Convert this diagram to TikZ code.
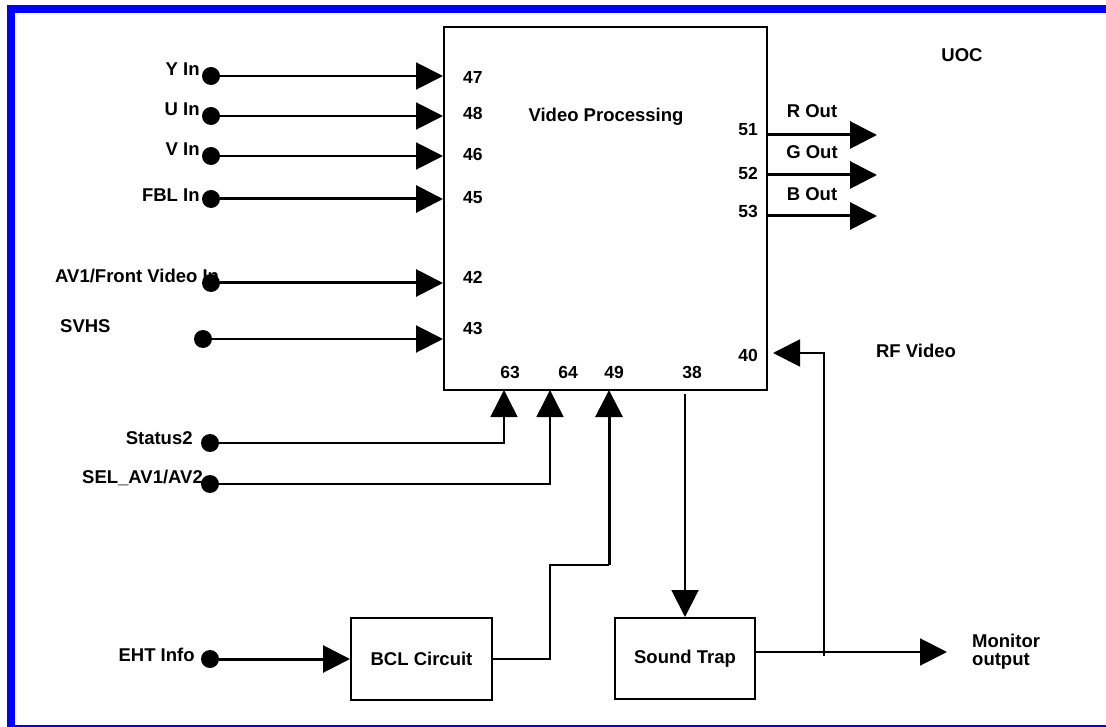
\documentclass[tikz,border=0pt]{standalone}
\usepackage{fontspec}
\setmainfont{Liberation Sans}
\usepackage{xcolor}
\definecolor{cFrame}{HTML}{0000FF}
\definecolor{cInk}{HTML}{000000}
\usetikzlibrary{positioning,arrows.meta}
\tikzset{
  pin-lbl/.style={font=\fontsize{18.5}{19}\selectfont\bfseries,inner sep=0pt,text=cInk},
  pin-num/.style={pin-lbl,font=\fontsize{17.5}{18}\selectfont\bfseries},
  node-dot/.style={circle,fill=cInk,inner sep=0pt,minimum size=18pt},
  node-box/.style={draw=cInk,line width=2pt,inner sep=0pt,align=center,
    font=\fontsize{18.5}{19}\selectfont\bfseries},
  wire/.style={draw=cInk,line width=2pt},
  wire-thin/.style={draw=cInk,line width=1.5pt},
  wire-thick/.style={draw=cInk,line width=3pt},
  tip/.style={-{Triangle[length=27pt,width=27pt]}},
}
\begin{document}
\begin{tikzpicture}[x=1pt,y=-1pt]
  \useasboundingbox (0,0) rectangle (1106,727);
  % frame
  \fill[cFrame] (7,5) rectangle (15,727);
  \fill[cFrame] (7,5) rectangle (1106,13);
  \draw[cFrame,line width=2pt] (7,725.5) -- (1106,725.5);

  % UOC block
  \node[node-box,minimum width=323pt,minimum height=363pt] (vp) at (605.5,208.5) {};
  \node[pin-lbl] (vp-lbl) at (606,117) {Video Processing};
  \node[pin-lbl] (uoc)    at (962,55)  {UOC};

  % pin numbers
  \node[pin-num,anchor=west] (p47) at (463,77)  {47};
  \node[pin-num,anchor=west] (p48) at (463,113) {48};
  \node[pin-num,anchor=west] (p46) at (463,154) {46};
  \node[pin-num,anchor=west] (p45) at (463,198) {45};
  \node[pin-num,anchor=west] (p42) at (463,277) {42};
  \node[pin-num,anchor=west] (p43) at (463,328) {43};
  \node[pin-num] (p63) at (510,372) {63};
  \node[pin-num] (p64) at (568,372) {64};
  \node[pin-num] (p49) at (614,372) {49};
  \node[pin-num] (p38) at (692,372) {38};
  \node[pin-num,anchor=east] (p51) at (758,130) {51};
  \node[pin-num,anchor=east] (p52) at (758,173) {52};
  \node[pin-num,anchor=east] (p53) at (758,211) {53};
  \node[pin-num,anchor=east] (p40) at (758,355) {40};

  % left inputs
  \node[pin-lbl,anchor=base west] (av-lbl) at (55,283) {AV1/Front Video In};
  \node[node-dot] (yin)  at (211,76)  {};
  \node[node-dot] (uin)  at (211,116) {};
  \node[node-dot] (vin)  at (211,156) {};
  \node[node-dot] (fbl)  at (211,199) {};
  \node[node-dot] (av1)  at (211,283) {};
  \node[node-dot] (svhs) at (203,339) {};
  \node[pin-lbl,anchor=base east] (yin-lbl) at ([xshift=-2pt]yin.west) {Y In};
  \node[pin-lbl,anchor=base east] (uin-lbl) at ([xshift=-2pt]uin.west) {U In};
  \node[pin-lbl,anchor=base east] (vin-lbl) at ([xshift=-2pt]vin.west) {V In};
  \node[pin-lbl,anchor=base east] (fbl-lbl) at ([xshift=-2pt,yshift=-3pt]fbl.west) {FBL In};
  \node[pin-lbl,anchor=west] (svhs-lbl) at (60,326) {SVHS};
  \draw[wire,tip]       (yin)  -- (yin -| vp.west);
  \draw[wire,tip]       (uin)  -- (uin -| vp.west);
  \draw[wire,tip]       (vin)  -- (vin -| vp.west);
  \draw[wire-thick,tip] (fbl)  -- (fbl -| vp.west);
  \draw[wire-thick,tip] (av1)  -- (av1 -| vp.west);
  \draw[wire,tip]       (svhs) -- (svhs -| vp.west);

  % RGB outputs
  \coordinate (rout) at (877,135);
  \coordinate (gout) at (877,175);
  \coordinate (bout) at (877,216);
  \node[pin-lbl] (rout-lbl) at (812,111) {R Out};
  \node[pin-lbl] (gout-lbl) at (812,152) {G Out};
  \node[pin-lbl] (bout-lbl) at (812,194) {B Out};
  \draw[wire-thick,tip] (rout -| vp.east) -- (rout);
  \draw[wire-thick,tip] (gout -| vp.east) -- (gout);
  \draw[wire-thick,tip] (bout -| vp.east) -- (bout);

  % bottom inputs
  \coordinate (in63) at (504,390);
  \coordinate (in64) at (550,390);
  \coordinate (in49) at (609,390);
  \node[node-dot] (st2) at (210,443) {};
  \node[node-dot] (sel) at (210,484) {};
  \node[pin-lbl,anchor=base east] (st2-lbl) at ([xshift=-8pt,yshift=-1pt]st2.west) {Status2};
  \node[pin-lbl,anchor=base east] (sel-lbl) at (203,483) {SEL\_AV1/AV2};
  \draw[wire-thin,tip] (st2) -| (in63);
  \draw[wire-thin,tip] (sel) -| (in64);

  % BCL
  \node[node-box,minimum width=141pt,minimum height=82pt] (bcl) at (421.5,659) {BCL Circuit};
  \node[node-dot] (eht) at (210,659) {};
  \node[pin-lbl,anchor=base east] (eht-lbl) at ([xshift=-6pt,yshift=-2pt]eht.west) {EHT Info};
  \draw[wire-thick,tip] (eht) -- (bcl.west |- eht);
  \coordinate (bcl-up) at (550,565);
  \draw[wire] (bcl.east) -| (bcl-up) -- (bcl-up -| in49);
  \draw[wire-thick,tip] (bcl-up -| in49) -- (in49);

  % sound trap, monitor, RF
  \node[node-box,minimum width=140pt,minimum height=81pt] (trap) at (685,658.5) {Sound Trap};
  \draw[wire,tip,shorten <=3pt] (trap.north |- vp.south) -- (trap.north);
  \coordinate (mon) at (947,652);
  \node[pin-lbl,anchor=west,align=left,font=\fontsize{18.5}{18}\selectfont\bfseries]
    (mon-lbl) at (972,652) {Monitor\\output};
  \draw[wire,tip] (trap.east |- mon) -- (mon);
  \coordinate (rf-foot) at (824,656);
  \coordinate (in40) at (773,353);
  \node[pin-lbl] (rf-lbl) at (916,351) {RF Video};
  \draw[wire,tip] (rf-foot) |- (in40);
\end{tikzpicture}
\end{document}
